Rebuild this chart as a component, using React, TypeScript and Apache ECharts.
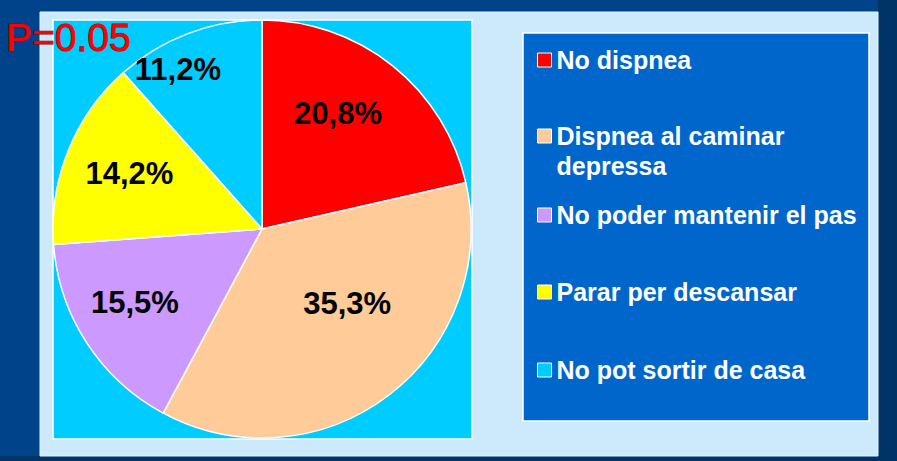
import React, { useEffect, useRef } from "react";
import * as echarts from "echarts";

const categories = [
  "No dispnea",
  "Dispnea al caminar\ndepressa",
  "No poder mantenir el pas",
  "Parar per descansar",
  "No pot sortir de casa",
];
const values = [20.8, 35.3, 15.5, 14.2, 11.2];
const sliceColors = ["#ff0000", "#ffcc99", "#cc99ff", "#ffff00", "#00ccff"];
const pValueText = "P=0.05";

// label nudges (style only) from default inside position
const labelShift = [
  [9, -31],
  [20, -11],
  [-37, 15],
  [-33, -15],
  [-46, -59],
];
const legendTops = [47.5, 91, 202.5, 279.5, 357.5];

const FONT = "'Liberation Sans', Arial, sans-serif";

export default function App() {
  const ref = useRef<HTMLDivElement>(null);
  useEffect(() => {
    if (!ref.current) return;
    const chart = echarts.init(ref.current, undefined, { renderer: "svg" });
    const legends = categories.map((name, i) => ({
      show: true,
      orient: "vertical",
      left: 537,
      top: legendTops[i],
      padding: 0,
      selectedMode: false,
      icon: "rect",
      itemWidth: 14,
      itemHeight: 14,
      itemStyle: { borderColor: "#ffffff", borderWidth: 1 },
      formatter: (n: string) => (n.indexOf("\n") >= 0 ? "\n" + n : n),
      textStyle: {
        color: "#ffffff",
        fontSize: 25,
        fontWeight: "bold",
        fontFamily: FONT,
        lineHeight: i === 1 ? 30 : 25,
      },
      data: [name],
    }));
    chart.setOption({
      animation: false,
      backgroundColor: "#00438a",
      graphic: [
        { type: "rect", shape: { x: 878, y: 0, width: 19, height: 461 }, style: { fill: "#003366" }, z: 0 },
        { type: "rect", shape: { x: 0, y: 456, width: 897, height: 5 }, style: { fill: "#003366" }, z: 0 },
        {
          type: "rect",
          shape: { x: 40, y: 12, width: 838, height: 444 },
          style: { fill: "#cceafc", stroke: "#e6f5ff", lineWidth: 1 },
          z: 0,
        },
        {
          type: "rect",
          shape: { x: 53, y: 20, width: 419, height: 419 },
          style: { fill: "#00ccff", stroke: "#ffffff", lineWidth: 1.5 },
          z: 0,
        },
        {
          type: "rect",
          shape: { x: 523, y: 33, width: 346, height: 388 },
          style: { fill: "#0066cc", stroke: "#ffffff", lineWidth: 1.5 },
          z: 0,
        },
        {
          type: "text",
          x: 6,
          y: 37,
          z: 10,
          style: {
            text: pValueText,
            fill: "#ff0000",
            stroke: "#8b0000",
            lineWidth: 1,
            font: `39px ${FONT}`,
            textVerticalAlign: "middle",
            verticalAlign: "middle",
          },
        },
      ],
      legend: legends,
      series: [
        {
          type: "pie",
          center: [262, 229],
          radius: 209,
          startAngle: 90,
          clockwise: true,
          silent: true,
          avoidLabelOverlap: false,
          itemStyle: { borderColor: "#ffffff", borderWidth: 1.5 },
          label: {
            show: true,
            position: "inside",
            color: "#000000",
            fontSize: 31,
            fontWeight: "bold",
            fontFamily: FONT,
            formatter: (p: any) => p.value.toFixed(1).replace(".", ",") + "%",
          },
          labelLine: { show: false },
          labelLayout: (p: any) => ({ dx: labelShift[p.dataIndex][0], dy: labelShift[p.dataIndex][1] }),
          emphasis: { disabled: true },
          data: categories.map((name, i) => ({
            name,
            value: values[i],
            itemStyle: { color: sliceColors[i] },
          })),
        },
      ],
    });
    return () => chart.dispose();
  }, []);
  return (
    <div
      ref={ref}
      style={{ position: "fixed", left: 0, top: 0, width: 897, height: 461 }}
    />
  );
}
